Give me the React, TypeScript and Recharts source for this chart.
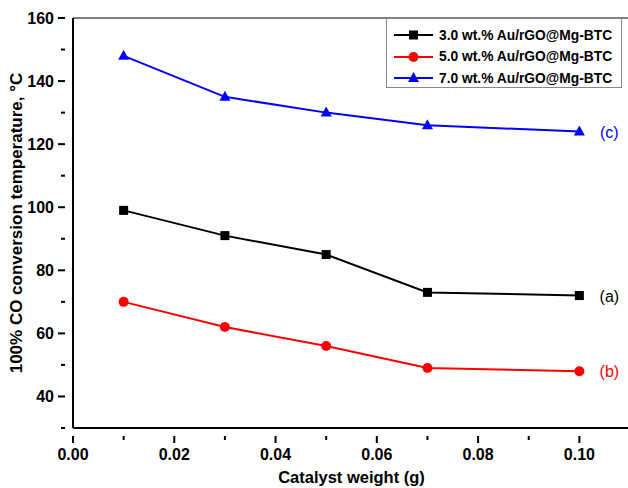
import React from 'react';
import { LineChart, Line, XAxis, YAxis, Legend, ReferenceLine, LabelList } from 'recharts';

const weights = [0.01, 0.03, 0.05, 0.07, 0.1];
const series3 = [99, 91, 85, 73, 72];
const series5 = [70, 62, 56, 49, 48];
const series7 = [148, 135, 130, 126, 124];
const seriesNames = ['3.0 wt.% Au/rGO@Mg-BTC', '5.0 wt.% Au/rGO@Mg-BTC', '7.0 wt.% Au/rGO@Mg-BTC'];
const seriesTags = ['(a)', '(b)', '(c)'];
const xTicks = [0, 0.01, 0.02, 0.03, 0.04, 0.05, 0.06, 0.07, 0.08, 0.09, 0.1, 0.11];
const xLabels = ['0.00', '0.02', '0.04', '0.06', '0.08', '0.10'];
const yTicks = [30, 40, 50, 60, 70, 80, 90, 100, 110, 120, 130, 140, 150, 160];
const yLabels = [40, 60, 80, 100, 120, 140, 160];

const colors = ['#000000', '#ff0000', '#0000ff'];

const data = weights.map((w, i) => ({ w, a: series3[i], b: series5[i], c: series7[i] }));

const font = 'Arial, "Liberation Sans", sans-serif';

const XTick = (props: any) => {
  const { x, y, payload } = props;
  const v = payload.value;
  const idx = xTicks.indexOf(v);
  const major = idx % 2 === 0;
  const label = major ? xLabels[idx / 2] : null;
  return (
    <g>
      <line x1={x} x2={x} y1={y} y2={y + (major ? 7 : 4)} stroke="#000" strokeWidth={2} />
      {label && (
        <text x={x} y={y + 24} textAnchor="middle" fontFamily={font} fontWeight="bold" fontSize={16} fill="#000">
          {label}
        </text>
      )}
    </g>
  );
};

const YTick = (props: any) => {
  const { x, y, payload } = props;
  const v = payload.value;
  const major = yLabels.includes(v);
  return (
    <g>
      <line x1={x} x2={x - (major ? 7 : 4)} y1={y} y2={y} stroke="#000" strokeWidth={2} />
      {major && (
        <text x={x - 11} y={y + 6} textAnchor="end" fontFamily={font} fontWeight="bold" fontSize={16} fill="#000">
          {v}
        </text>
      )}
    </g>
  );
};

const makeDot = (kind: number, color: string) => (props: any) => {
  const { cx, cy, index } = props;
  if (cx == null || cy == null) return <g key={index} />;
  if (kind === 0) return <rect key={index} x={cx - 4.5} y={cy - 4.5} width={9} height={9} fill={color} />;
  if (kind === 1) return <circle key={index} cx={cx} cy={cy} r={5} fill={color} />;
  return <polygon key={index} points={`${cx},${cy - 6} ${cx - 5.5},${cy + 4} ${cx + 5.5},${cy + 4}`} fill={color} />;
};

const makeTag = (tag: string, color: string) => (props: any) => {
  const { x, y, index } = props;
  if (index !== weights.length - 1) return null;
  return (
    <text x={x + 30} y={y + 6} textAnchor="middle" fontFamily={font} fontSize={16} fill={color}>
      {tag}
    </text>
  );
};

const markerFor = (i: number, color: string) => {
  if (i === 0) return <rect x={15} y={-4.5} width={9} height={9} fill={color} />;
  if (i === 1) return <circle cx={19.5} cy={0} r={5} fill={color} />;
  return <polygon points={`19.5,-6 14,4 25,4`} fill={color} />;
};

const LegendBox = () => (
  <div
    style={{
      position: 'absolute',
      left: 386,
      top: 18,
      width: 234,
      height: 68,
      border: '1px solid #888',
      background: '#fff',
      fontFamily: font,
    }}
  >
    {seriesNames.map((n, i) => (
      <div key={n} style={{ position: 'absolute', left: 7, top: 7 + i * 21.5, height: 18, display: 'flex', alignItems: 'center' }}>
        <svg width={40} height={18} style={{ overflow: 'visible' }}>
          <g transform="translate(0,9)">
            <line x1={0} x2={39} y1={0} y2={0} stroke={colors[i]} strokeWidth={2} />
            {markerFor(i, colors[i])}
          </g>
        </svg>
        <span style={{ marginLeft: 5, fontSize: 13.8, fontWeight: 'bold', color: '#000', whiteSpace: 'nowrap' }}>{n}</span>
      </div>
    ))}
  </div>
);

export default function App() {
  return (
    <div style={{ position: 'absolute', left: 0, top: 0, width: 628, height: 488, overflow: 'hidden', background: '#fff' }}>
      <LineChart width={630} height={488} data={data} margin={{ top: 18, right: 0, bottom: 0, left: 0 }}>
        <ReferenceLine y={160} stroke="#555" strokeWidth={1.5} />
        <XAxis
          dataKey="w"
          type="number"
          domain={[0, 0.11]}
          ticks={xTicks}
          interval={0}
          stroke="#000"
          strokeWidth={2}
          tickLine={false}
          tick={<XTick />}
          label={{ value: 'Catalyst weight (g)', position: 'insideBottom', offset: 5, style: { fontFamily: font, fontWeight: 'bold', fontSize: 16.5, fill: '#000' } }}
          height={60}
        />
        <YAxis
          type="number"
          domain={[30, 160]}
          ticks={yTicks}
          interval={0}
          stroke="#000"
          strokeWidth={2}
          tickLine={false}
          tick={<YTick />}
          width={73}
          label={{ value: '100% CO conversion temperature, °C', angle: -90, position: 'insideLeft', offset: 16, style: { textAnchor: 'middle', fontFamily: font, fontWeight: 'bold', fontSize: 17, fill: '#000' } }}
        />
        <Legend content={() => <LegendBox />} wrapperStyle={{ position: 'absolute', left: 0, top: 0, width: 0, height: 0 }} />
        <Line dataKey="a" name={seriesNames[0]} stroke={colors[0]} strokeWidth={2} dot={makeDot(0, colors[0])} activeDot={false} isAnimationActive={false}>
          <LabelList dataKey="a" content={makeTag(seriesTags[0], colors[0])} />
        </Line>
        <Line dataKey="b" name={seriesNames[1]} stroke={colors[1]} strokeWidth={2} dot={makeDot(1, colors[1])} activeDot={false} isAnimationActive={false}>
          <LabelList dataKey="b" content={makeTag(seriesTags[1], colors[1])} />
        </Line>
        <Line dataKey="c" name={seriesNames[2]} stroke={colors[2]} strokeWidth={2} dot={makeDot(2, colors[2])} activeDot={false} isAnimationActive={false}>
          <LabelList dataKey="c" content={makeTag(seriesTags[2], colors[2])} />
        </Line>
      </LineChart>
    </div>
  );
}
